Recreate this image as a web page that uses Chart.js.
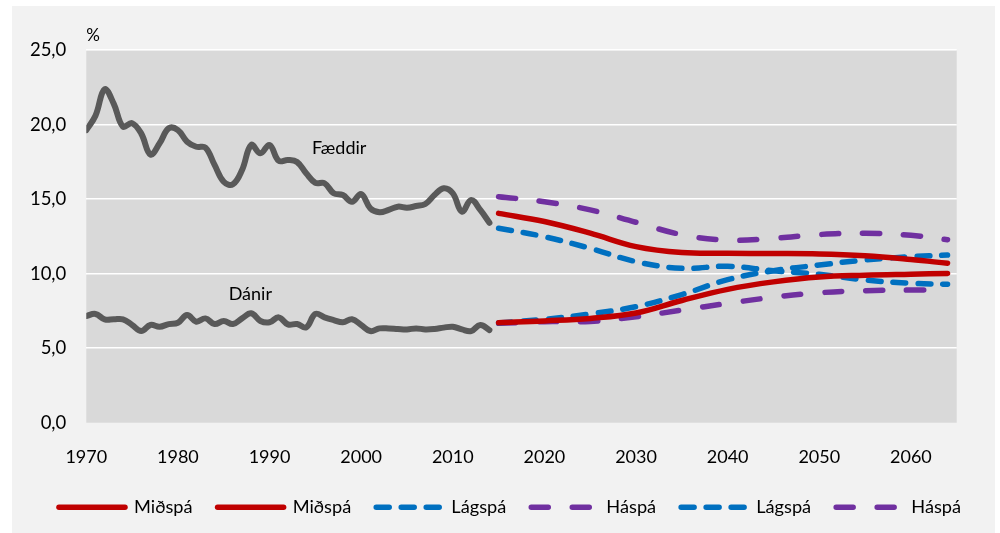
<!DOCTYPE html>
<html>
<head>
<meta charset="utf-8">
<script src="https://cdn.jsdelivr.net/npm/chart.js@4.4.1/dist/chart.umd.min.js"></script>
<style>
  html, body { margin: 0; padding: 0; background: #ffffff; }
  #panel { position: absolute; left: 12px; top: 6px; width: 983px; height: 527px; background: #f2f2f2; }
</style>
</head>
<body>
<div id="panel"><canvas id="birthChart" width="983" height="527"></canvas></div>
<script>
// historical rates, per 1000 (%)
const histYears = [1970, 1971, 1972, 1973, 1974, 1975, 1976, 1977, 1978, 1979,
    1980, 1981, 1982, 1983, 1984, 1985, 1986, 1987, 1988, 1989,
    1990, 1991, 1992, 1993, 1994, 1995, 1996, 1997, 1998, 1999,
    2000, 2001, 2002, 2003, 2004, 2005, 2006, 2007, 2008, 2009,
    2010, 2011, 2012, 2013, 2014];
const births = [19.64, 20.6, 22.37, 21.4, 19.87, 20.1, 19.4, 18.0, 18.75, 19.76,
    19.64, 18.86, 18.52, 18.46, 17.3, 16.17, 16.0, 16.96, 18.64, 18.08,
    18.64, 17.58, 17.63, 17.5, 16.74, 16.1, 16.07, 15.4, 15.28, 14.83,
    15.35, 14.39, 14.12, 14.28, 14.5, 14.43, 14.54, 14.68, 15.28, 15.73,
    15.4, 14.16, 14.95, 14.28, 13.42];
const deaths = [7.16, 7.3, 6.94, 6.94, 6.94, 6.56, 6.15, 6.56, 6.44, 6.62,
    6.71, 7.23, 6.78, 7.0, 6.62, 6.83, 6.62, 7.0, 7.34, 6.83,
    6.74, 7.07, 6.6, 6.62, 6.4, 7.3, 7.07, 6.89, 6.74, 6.94,
    6.56, 6.15, 6.33, 6.33, 6.29, 6.26, 6.33, 6.26, 6.29, 6.38,
    6.44, 6.26, 6.15, 6.56, 6.22];

// projections
const projYears = [2015, 2020, 2025, 2030, 2035, 2040, 2045, 2050, 2055, 2060, 2064];
const midBirths = [14.05, 13.5, 12.72, 11.82, 11.42, 11.37, 11.36, 11.33, 11.2, 10.95, 10.7];
const midDeaths = [6.71, 6.83, 7.0, 7.36, 8.2, 8.95, 9.45, 9.78, 9.9, 9.97, 10.02];
const lowBirths = [13.05, 12.48, 11.7, 10.81, 10.36, 10.5, 10.2, 9.96, 9.58, 9.36, 9.29];
const lowDeaths = [6.7, 6.94, 7.3, 7.79, 8.6, 9.6, 10.2, 10.58, 10.92, 11.14, 11.25];
const highBirths = [15.17, 14.83, 14.28, 13.45, 12.62, 12.25, 12.38, 12.63, 12.71, 12.58, 12.28];
const highDeaths = [6.67, 6.78, 6.8, 7.11, 7.56, 8.01, 8.42, 8.72, 8.86, 8.9, 8.9];

const yTicks = [0, 5, 10, 15, 20, 25];
const xTicks = [1970, 1980, 1990, 2000, 2010, 2020, 2030, 2040, 2050, 2060];

const GREY = '#595959';
const RED = '#c00000';
const BLUE = '#0070c0';
const PURPLE = '#7030a0';
const FONT = 'Lato';
const PAD_BOTTOM = 6.6;
const PLOT_BOTTOM = 416.7;

function pts(xs, ys) {
    return ys.map((v, i) => ({ x: xs[i], y: v }));
}

function line(label, xs, ys, color, dash, width) {
    return {
        label: label,
        data: pts(xs, ys),
        borderColor: color,
        backgroundColor: color,
        borderWidth: width,
        borderDash: dash,
        borderCapStyle: 'round',
        borderJoinStyle: 'round',
        pointRadius: 0,
        pointStyle: 'line',
        tension: 0.4,
        fill: false
    };
}

const BLUE_DASH = [13, 12];
const PURPLE_DASH = [17, 24];

// background of plot area + the free text labels
const decor = {
    id: 'decor',
    beforeDraw(chart) {
        const { ctx, chartArea: a } = chart;
        ctx.save();
        ctx.fillStyle = '#d9d9d9';
        ctx.fillRect(a.left, a.top, a.right - a.left, a.bottom - a.top);
        ctx.restore();
    },
    afterDatasetsDraw(chart) {
        const { ctx, chartArea: a, scales } = chart;
        ctx.save();
        ctx.fillStyle = '#000';
        ctx.font = '17px ' + FONT;
        ctx.textBaseline = 'middle';
        ctx.textAlign = 'left';
        ctx.fillText('%', a.left, a.top - 15);
        ctx.font = '18px ' + FONT;
        ctx.textAlign = 'center';
        ctx.fillText('Fæddir', scales.x.getPixelForValue(1997.6), scales.y.getPixelForValue(18.4));
        ctx.fillText('Dánir', scales.x.getPixelForValue(1987.9), scales.y.getPixelForValue(8.65));
        ctx.restore();
    }
};

const ctx = document.getElementById('birthChart').getContext('2d');
new Chart(ctx, {
    type: 'line',
    data: {
        datasets: [
            line('Fæddir', histYears, births, GREY, [], 6),
            line('Dánir', histYears, deaths, GREY, [], 6),
            line('Miðspá', projYears, midBirths, RED, [], 5.5),
            line('Miðspá', projYears, midDeaths, RED, [], 5.5),
            line('Lágspá', projYears, lowBirths, BLUE, BLUE_DASH, 5.5),
            line('Háspá', projYears, highBirths, PURPLE, PURPLE_DASH, 5.5),
            line('Lágspá', projYears, lowDeaths, BLUE, BLUE_DASH, 5.5),
            line('Háspá', projYears, highDeaths, PURPLE, PURPLE_DASH, 5.5)
        ]
    },
    options: {
        responsive: false,
        animation: false,
        layout: {
            padding: { left: 13, right: 0, top: 44.2, bottom: PAD_BOTTOM }
        },
        scales: {
            x: {
                type: 'linear',
                min: 1970,
                max: 2065,
                afterBuildTicks: s => { s.ticks = xTicks.map(v => ({ value: v })); },
                afterFit: s => {
                    // keep plot bottom at the right place
                    s.height = s.chart.height - PAD_BOTTOM - s.chart.legend.height - PLOT_BOTTOM;
                },
                grid: { display: false },
                border: { display: false },
                ticks: {
                    color: '#000',
                    padding: 16,
                    maxRotation: 0,
                    font: { family: FONT, size: 18 },
                    callback: v => String(v)
                }
            },
            y: {
                min: 0,
                max: 25,
                afterBuildTicks: s => { s.ticks = yTicks.map(v => ({ value: v })); },
                afterFit: s => { s.width = 61.3; },
                grid: {
                    color: c => c.tick && c.tick.value === 0 ? 'rgba(0,0,0,0)' : '#ffffff',
                    lineWidth: 1.5,
                    drawTicks: false
                },
                border: { display: false },
                ticks: {
                    color: '#000',
                    padding: 20,
                    font: { family: FONT, size: 18.5 },
                    callback: v => v.toFixed(1).replace('.', ',')
                }
            },
            // spacer on the right side
            y2: {
                position: 'right',
                display: true,
                afterFit: s => { s.width = 38.3; },
                grid: { display: false },
                border: { display: false },
                ticks: { display: false }
            }
        },
        plugins: {
            legend: {
                position: 'bottom',
                labels: {
                    usePointStyle: true,
                    pointStyle: 'line',
                    pointStyleWidth: 66,
                    padding: 25,
                    color: '#000',
                    font: { family: FONT, size: 18.2 },
                    filter: item => item.datasetIndex > 1,
                    generateLabels: chart => {
                        const items = Chart.defaults.plugins.legend.labels.generateLabels(chart);
                        return items.map(it => {
                            const ds = chart.data.datasets[it.datasetIndex];
                            it.lineCap = 'round';
                            it.lineDash = ds.borderDash;
                            it.lineWidth = 5.5;
                            it.strokeStyle = ds.borderColor;
                            return it;
                        });
                    }
                }
            },
            tooltip: { enabled: false }
        }
    },
    plugins: [decor]
});
</script>
</body>
</html>
